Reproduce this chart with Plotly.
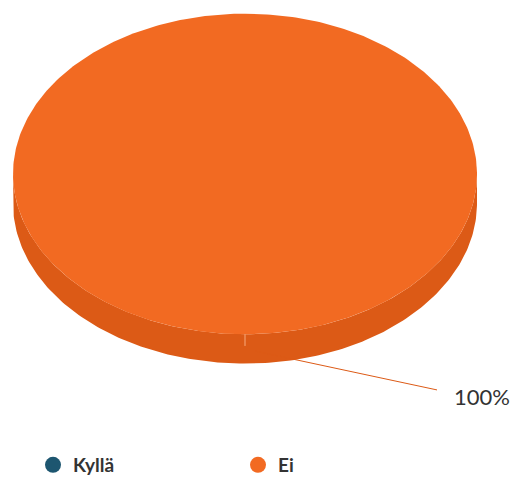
import numpy as np
import plotly.graph_objects as go

# Survey answer share
categories = ["Kyllä", "Ei"]
values = [0, 100]
top_colors = ["#1d5670", "#f26a22"]
side_colors = ["#163f53", "#dc5a16"]

# Geometry of the tilted pie (pixel space)
W, H = 517, 484
CX, CY = 245, 178
RX, RY = 232, 164
DEPTH = 30
START_DEG = -90.0
LABEL_DX, LABEL_DY = 192, 42


def ell(t, dy=0.0):
    return CX + RX * np.cos(t), CY + RY * np.sin(t) + dy


def front_parts(a0, a1):
    parts = []
    for k in (-2, 0, 2):
        lo, hi = max(a0, k * np.pi), min(a1, k * np.pi + np.pi)
        if hi > lo:
            parts.append((lo, hi))
    return parts


total = float(sum(values))
fig = go.Figure()

slices = []
acc = np.deg2rad(START_DEG)
for name, v, ct, cs in zip(categories, values, top_colors, side_colors):
    span = 2 * np.pi * v / total
    slices.append((name, v, acc, acc + span, ct, cs))
    acc += span

# side walls
for name, v, a0, a1, ct, cs in slices:
    if v <= 0:
        continue
    for lo, hi in front_parts(a0, a1):
        t = np.linspace(lo, hi, 200)
        ux, uy = ell(t)
        lx, ly = ell(t[::-1], DEPTH)
        fig.add_trace(go.Scatter(
            x=np.r_[ux, lx, ux[:1]], y=np.r_[uy, ly, uy[:1]],
            mode="lines", fill="toself", fillcolor=cs,
            line=dict(width=0, color=cs), hoverinfo="skip", showlegend=False))

# top faces
for name, v, a0, a1, ct, cs in slices:
    if v <= 0:
        continue
    t = np.linspace(a0, a1, 400)
    x, y = ell(t)
    if a1 - a0 < 2 * np.pi - 1e-9:
        x, y = np.r_[CX, x, CX], np.r_[CY, y, CY]
    fig.add_trace(go.Scatter(
        x=x, y=y, mode="lines", fill="toself", fillcolor=ct,
        line=dict(width=0, color=ct), hoverinfo="skip", showlegend=False))

# edge highlights, connectors and percentage labels
for name, v, a0, a1, ct, cs in slices:
    if v <= 0:
        continue
    mid = (a0 + a1) / 2
    tx, ty = ell(np.array([mid]))
    fig.add_trace(go.Scatter(
        x=[tx[0], tx[0]], y=[ty[0], ty[0] + DEPTH * 0.4], mode="lines",
        line=dict(width=1, color="rgba(255,190,150,0.8)"),
        hoverinfo="skip", showlegend=False))
    mx, my = ell(np.array([mid]), DEPTH * 0.5)
    ex, ey = mx[0] + LABEL_DX, my[0] + LABEL_DY
    fig.add_trace(go.Scatter(
        x=[mx[0], ex], y=[my[0], ey], mode="lines",
        line=dict(width=1, color=cs), hoverinfo="skip", showlegend=False))
    pct = f"{round(100 * v / total)}%"
    fig.add_trace(go.Scatter(
        x=[ex + 17], y=[ey + 10], mode="text", text=[pct],
        textposition="middle right",
        textfont=dict(family="Lato", size=22, color="#333333"),
        hoverinfo="skip", showlegend=False))

# legend entries
for name, ct in zip(categories, top_colors):
    fig.add_trace(go.Scatter(
        x=[None], y=[None], mode="markers", name=name,
        marker=dict(symbol="circle", size=18, color=ct)))

fig.update_layout(
    width=W, height=H,
    margin=dict(l=0, r=0, t=0, b=0),
    paper_bgcolor="white", plot_bgcolor="white",
    xaxis=dict(range=[0, W], visible=False, fixedrange=True),
    yaxis=dict(range=[H, 0], visible=False, fixedrange=True),
    showlegend=True,
    legend=dict(
        orientation="h", x=33 / W, xanchor="left",
        y=1 - 476 / H, yanchor="middle",
        entrywidth=160, entrywidthmode="pixels",
        itemsizing="trace",
        font=dict(family="Lato", size=19, color="#333333", weight="bold"),
        bgcolor="rgba(0,0,0,0)"),
)

fig.write_html("out.html")
